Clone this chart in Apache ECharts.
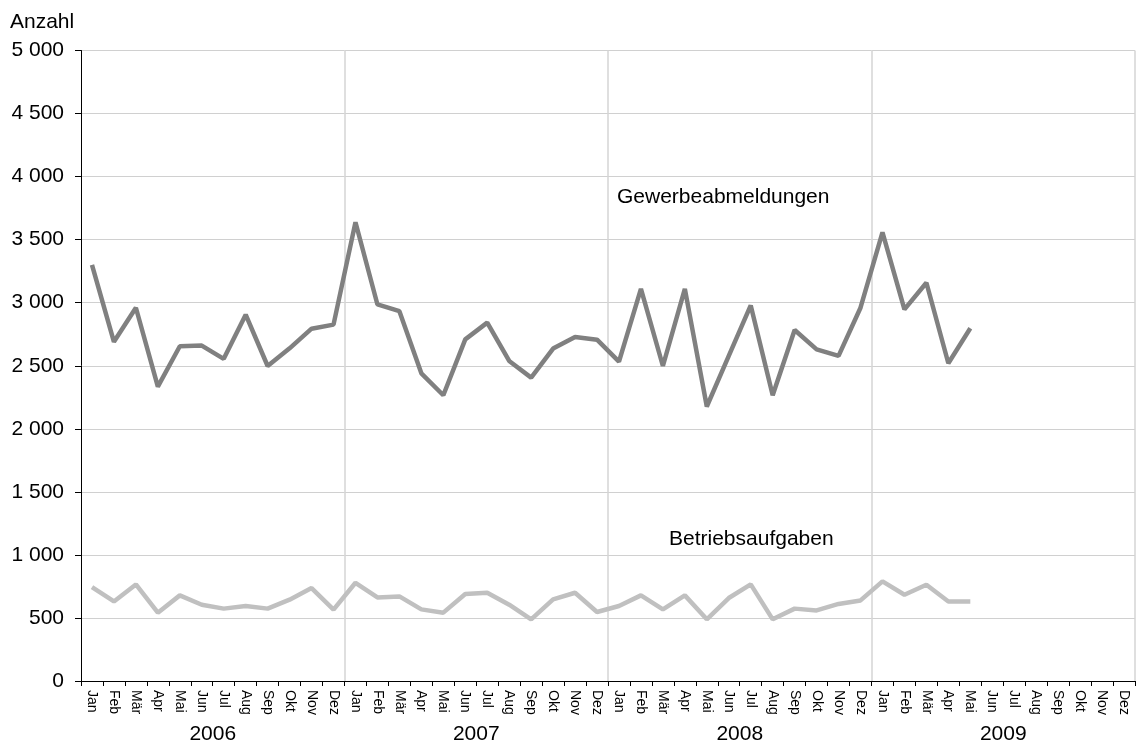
<!DOCTYPE html>
<html>
<head>
<meta charset="utf-8">
<script src="https://cdn.jsdelivr.net/npm/echarts@6/dist/echarts.min.js"></script>
<style>
  html, body { margin: 0; padding: 0; background: #fff; }
  #main { width: 1137px; height: 745px; }
</style>
</head>
<body>
<div id="main"></div>
<script>
// Monatsdaten 2006 - 2009
var months = ['Jan', 'Feb', 'Mär', 'Apr', 'Mai', 'Jun', 'Jul', 'Aug', 'Sep', 'Okt', 'Nov', 'Dez'];
var years = ['2006', '2007', '2008', '2009'];

var gewerbeabmeldungen = [
    3300, 2690, 2960, 2335, 2655, 2660, 2555, 2905, 2498, 2638, 2794, 2826,
    3638, 2986, 2933, 2440, 2266, 2709, 2842, 2538, 2406, 2636, 2728, 2707,
    2533, 3110, 2498, 3110, 2177, 2578, 2978, 2266, 2783, 2630, 2578, 2960,
    3558, 2947, 3158, 2520, 2797
];
var betriebsaufgaben = [
    745, 631, 766, 542, 679, 605, 574, 595, 574, 645, 737, 566,
    779, 663, 671, 568, 542, 690, 700, 605, 489, 647, 700, 547,
    595, 679, 568, 679, 489, 658, 766, 489, 574, 560, 611, 639,
    790, 684, 763, 631, 631
];

// Kategorien eindeutig machen: "Jan|2006"
var categories = [];
years.forEach(function (y) {
    months.forEach(function (m) { categories.push(m + '|' + y); });
});

var font = 'Liberation Sans, Arial, sans-serif';
var myChart = echarts.init(document.getElementById('main'));
myChart.setOption({
    animation: false,
    backgroundColor: '#fff',
    textStyle: { fontFamily: font },
    grid: { left: 81, right: 2, top: 50.5, bottom: 62.5, containLabel: false },
    xAxis: [{
        type: 'category',
        data: categories,
        boundaryGap: true,
        position: 'bottom',
        axisLine: { show: true, lineStyle: { color: '#000', width: 1 } },
        axisTick: { show: true, length: 5, interval: 0, lineStyle: { color: '#000' } },
        axisLabel: {
            interval: 0,
            rotate: -90,
            margin: 9,
            fontSize: 14,
            color: '#000',
            fontFamily: font,
            formatter: function (v) { return v.split('|')[0]; }
        },
        splitLine: {
            show: true,
            interval: function (i) { return i > 0 && i % 12 === 0; },
            lineStyle: { color: '#d4d4d4', width: 1.5 }
        }
    }, {
        type: 'category',
        data: years,
        boundaryGap: true,
        position: 'bottom',
        offset: 0,
        axisLine: { show: false },
        axisTick: { show: false },
        axisLabel: { interval: 0, margin: 43, fontSize: 21, color: '#000', fontFamily: font },
        splitLine: { show: false }
    }],
    yAxis: {
        type: 'value',
        min: 0,
        max: 5000,
        interval: 500,
        axisLine: { show: true, lineStyle: { color: '#000', width: 1 } },
        axisTick: { show: true, inside: false, length: 6, lineStyle: { color: '#000' } },
        axisLabel: {
            margin: 17,
            fontSize: 21,
            color: '#000',
            fontFamily: font,
            formatter: function (v) {
                return String(v).replace(/\B(?=(\d{3})+(?!\d))/g, ' ');
            }
        },
        splitLine: { show: true, lineStyle: { color: '#d0d0d0', width: 1 } }
    },
    series: [{
        name: 'Gewerbeabmeldungen',
        type: 'line',
        data: gewerbeabmeldungen,
        showSymbol: false,
        symbol: 'none',
        lineStyle: { color: '#808080', width: 4.5 },
        z: 3
    }, {
        name: 'Betriebsaufgaben',
        type: 'line',
        data: betriebsaufgaben,
        showSymbol: false,
        symbol: 'none',
        lineStyle: { color: '#c0c0c0', width: 4.5 },
        z: 2
    }],
    graphic: [{
        type: 'text',
        left: 10,
        top: 12,
        style: { text: 'Anzahl', fontSize: 21, fill: '#000', fontFamily: font }
    }, {
        type: 'text',
        x: 617,
        y: 197,
        style: { text: 'Gewerbeabmeldungen', fontSize: 21, fill: '#000', fontFamily: font, verticalAlign: 'middle' }
    }, {
        type: 'text',
        x: 669,
        y: 539,
        style: { text: 'Betriebsaufgaben', fontSize: 21, fill: '#000', fontFamily: font, verticalAlign: 'middle' }
    }]
});
</script>
</body>
</html>
